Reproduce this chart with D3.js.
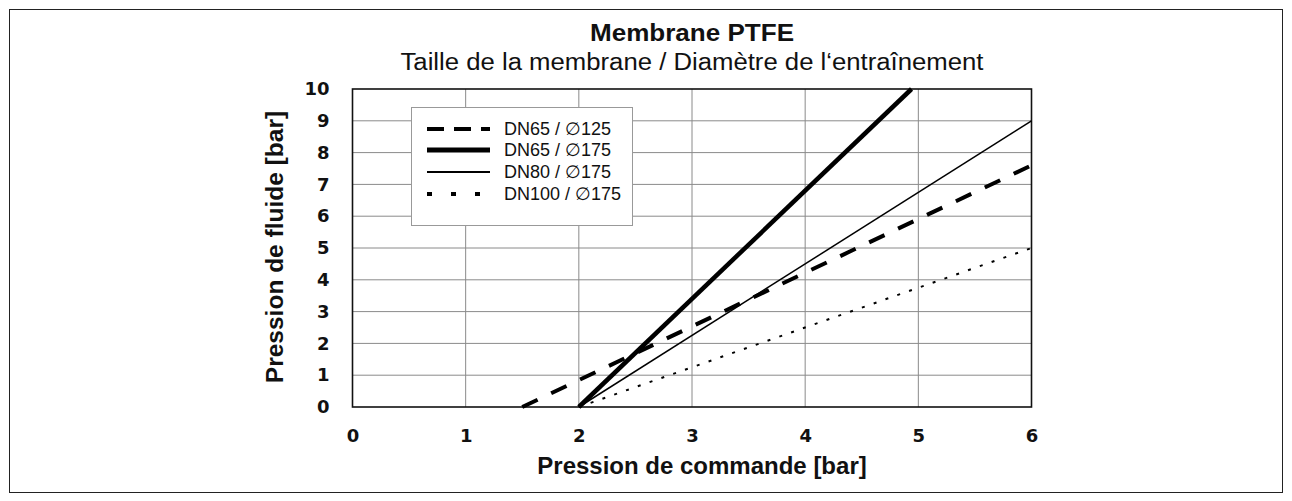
<!DOCTYPE html>
<html>
<head>
<meta charset="utf-8">
<script src="https://cdn.jsdelivr.net/npm/d3@7"></script>
<style>
  html, body { margin: 0; padding: 0; background: #fff; }
  svg { display: block; font-family: "Liberation Sans", Arial, Helvetica, sans-serif; }
</style>
</head>
<body>
<svg id="chart" width="1292" height="501"></svg>
<script>
// Axis ticks
const xTicks = [0, 1, 2, 3, 4, 5, 6];
const yTicks = [0, 1, 2, 3, 4, 5, 6, 7, 8, 9, 10];

// Series: control pressure (x) vs. fluid pressure (y), straight segments
const seriesNames = ["DN65 / \u2205125", "DN65 / \u2205175", "DN80 / \u2205175", "DN100 / \u2205175"];
const dn65_125 = [[1.5, 0], [6, 7.6]];
const dn65_175 = [[2, 0], [4.94, 10]];
const dn80_175 = [[2, 0], [6, 9]];
const dn100_175 = [[2, 0], [6, 5]];

const seriesData = [dn65_125, dn65_175, dn80_175, dn100_175];
const lineStyles = [
  { width: 4, dash: "17,15", legendDash: "17,10", legendWidth: 4 },
  { width: 4.5, dash: null, legendDash: null, legendWidth: 5 },
  { width: 1.5, dash: null, legendDash: null, legendWidth: 2 },
  { width: 2, dash: "3,9.5", legendDash: "5,19", legendWidth: 4 }
];

const svg = d3.select("#chart");

// outer frame
svg.append("rect")
  .attr("x", 9.5).attr("y", 9.5)
  .attr("width", 1273).attr("height", 483)
  .attr("fill", "none").attr("stroke", "#222").attr("stroke-width", 1);

const plot = { left: 352.5, right: 1031.5, top: 89, bottom: 407 };

const x = d3.scaleLinear().domain([0, 6]).range([plot.left, plot.right]);
const y = d3.scaleLinear().domain([0, 10]).range([plot.bottom, plot.top]);

// gridlines
const grid = svg.append("g");
grid.selectAll("line.v").data(xTicks.slice(1, -1)).enter().append("line")
  .attr("x1", d => x(d)).attr("x2", d => x(d))
  .attr("y1", plot.top).attr("y2", plot.bottom)
  .attr("stroke", "#8a8a8a").attr("stroke-width", 1);
grid.selectAll("line.h").data(yTicks.slice(1, -1)).enter().append("line")
  .attr("x1", plot.left).attr("x2", plot.right)
  .attr("y1", d => y(d)).attr("y2", d => y(d))
  .attr("stroke", "#8a8a8a").attr("stroke-width", 1);

// axes (labels only; ticks hidden)
const xAxis = d3.axisBottom(x).tickValues(xTicks).tickSize(0).tickPadding(22).tickFormat(d3.format("d"));
const yAxis = d3.axisLeft(y).tickValues(yTicks).tickSize(0).tickPadding(23).tickFormat(d3.format("d"));

const gx = svg.append("g").attr("transform", `translate(0,${plot.bottom})`).call(xAxis);
const gy = svg.append("g").attr("transform", `translate(${plot.left},0)`).call(yAxis);
[gx, gy].forEach(g => {
  g.select(".domain").remove();
  g.selectAll("text")
    .attr("font-size", 18).attr("font-weight", "bold").attr("fill", "#111")
    .attr("font-family", "'DejaVu Sans', sans-serif");
});

// plot border
svg.append("rect")
  .attr("x", plot.left).attr("y", plot.top)
  .attr("width", plot.right - plot.left).attr("height", plot.bottom - plot.top)
  .attr("fill", "none").attr("stroke", "#111").attr("stroke-width", 1.6);

// series lines
const line = d3.line().x(d => x(d[0])).y(d => y(d[1]));
svg.append("clipPath").attr("id", "plotclip")
  .append("rect").attr("x", plot.left - 3).attr("y", plot.top - 3)
  .attr("width", plot.right - plot.left + 6).attr("height", plot.bottom - plot.top + 6);

svg.append("g").attr("clip-path", "url(#plotclip)")
  .selectAll("path").data(seriesData).enter().append("path")
  .attr("d", line)
  .attr("fill", "none")
  .attr("stroke", "#000")
  .attr("stroke-width", (d, i) => lineStyles[i].width)
  .attr("stroke-dasharray", (d, i) => lineStyles[i].dash);

// legend
const legend = svg.append("g");
legend.append("rect")
  .attr("x", 411.5).attr("y", 107.5).attr("width", 221).attr("height", 118)
  .attr("fill", "#fff").attr("stroke", "#999").attr("stroke-width", 1);
const legendY = [129, 150, 172, 194];
seriesNames.forEach((name, i) => {
  legend.append("line")
    .attr("x1", 427).attr("x2", 490)
    .attr("y1", legendY[i]).attr("y2", legendY[i])
    .attr("stroke", "#000")
    .attr("stroke-width", lineStyles[i].legendWidth)
    .attr("stroke-dasharray", lineStyles[i].legendDash);
  legend.append("text")
    .attr("x", 504).attr("y", legendY[i]).attr("dy", "0.36em")
    .attr("font-size", 18).attr("fill", "#111")
    .text(name);
});

// titles (slightly widened to the wide grotesque of the original)
const titleX = 692;
svg.append("text").attr("x", titleX).attr("y", 41).attr("text-anchor", "middle")
  .attr("font-size", 24).attr("font-weight", "bold").attr("fill", "#111")
  .attr("textLength", 204).attr("lengthAdjust", "spacingAndGlyphs")
  .text("Membrane PTFE");
svg.append("text").attr("x", titleX).attr("y", 70).attr("text-anchor", "middle")
  .attr("font-size", 23.5).attr("fill", "#111")
  .attr("textLength", 583).attr("lengthAdjust", "spacingAndGlyphs")
  .text("Taille de la membrane / Diamètre de l‘entraînement");

// axis titles
svg.append("text").attr("x", 702).attr("y", 474).attr("text-anchor", "middle")
  .attr("font-size", 24).attr("font-weight", "bold").attr("fill", "#111")
  .text("Pression de commande [bar]");
svg.append("text")
  .attr("transform", `translate(283,247) rotate(-90)`)
  .attr("text-anchor", "middle")
  .attr("font-size", 24.5).attr("font-weight", "bold").attr("fill", "#111")
  .text("Pression de fluide [bar]");
</script>
</body>
</html>
